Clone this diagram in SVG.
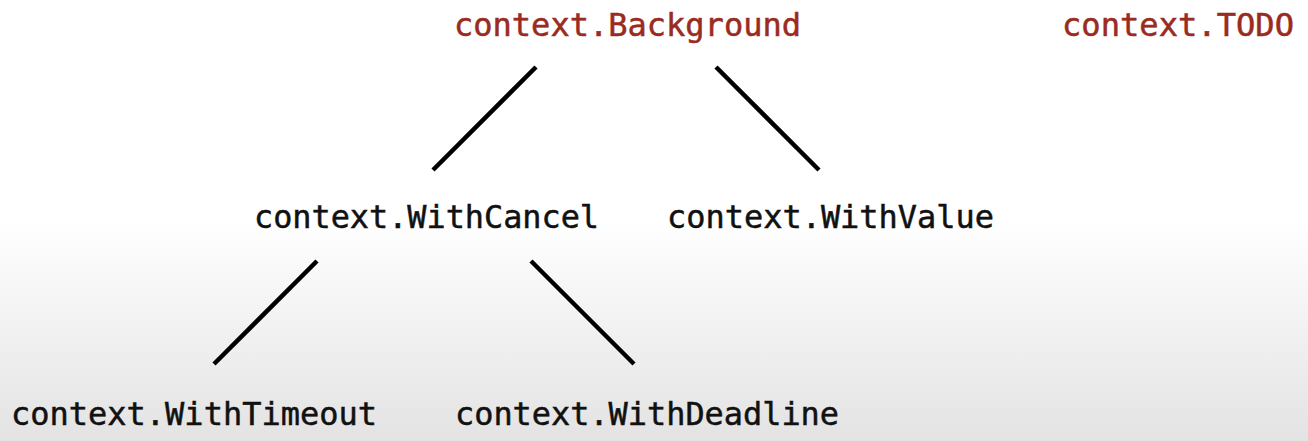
<svg xmlns="http://www.w3.org/2000/svg" width="1308" height="441" viewBox="0 0 1308 441">
<defs>
<linearGradient id="bg" x1="0" y1="0" x2="0" y2="441" gradientUnits="userSpaceOnUse">
<stop offset="0" stop-color="#ffffff"/>
<stop offset="0.5" stop-color="#ffffff"/>
<stop offset="1" stop-color="#e3e3e3"/>
</linearGradient>
<style>
.t{font-family:"DejaVu Sans Mono","Liberation Mono",monospace;font-size:31.5px;fill:#111111;stroke:#111111;stroke-width:0.5}
.r{fill:#9a2b21;stroke:#9a2b21}
.c{stroke:#000000;stroke-width:4.5;stroke-linecap:butt;fill:none}
</style>
</defs>
<rect width="1308" height="441" fill="url(#bg)"/>
<g id="connectors">
<line class="c" x1="536" y1="67" x2="433" y2="170"/>
<line class="c" x1="716" y1="67" x2="819" y2="170"/>
<line class="c" x1="317" y1="261" x2="214" y2="364"/>
<line class="c" x1="531" y1="261" x2="634" y2="364"/>
</g>
<g id="background"><text class="t r" x="454" y="36" textLength="347" lengthAdjust="spacingAndGlyphs">context.Background</text></g>
<g id="todo"><text class="t r" x="1062" y="36" textLength="232" lengthAdjust="spacingAndGlyphs">context.TODO</text></g>
<g id="withcancel"><text class="t" x="254" y="228" textLength="345" lengthAdjust="spacingAndGlyphs">context.WithCancel</text></g>
<g id="withvalue"><text class="t" x="667" y="228" textLength="327" lengthAdjust="spacingAndGlyphs">context.WithValue</text></g>
<g id="withtimeout"><text class="t" x="11" y="425" textLength="366" lengthAdjust="spacingAndGlyphs">context.WithTimeout</text></g>
<g id="withdeadline"><text class="t" x="455" y="425" textLength="384" lengthAdjust="spacingAndGlyphs">context.WithDeadline</text></g>
</svg>
